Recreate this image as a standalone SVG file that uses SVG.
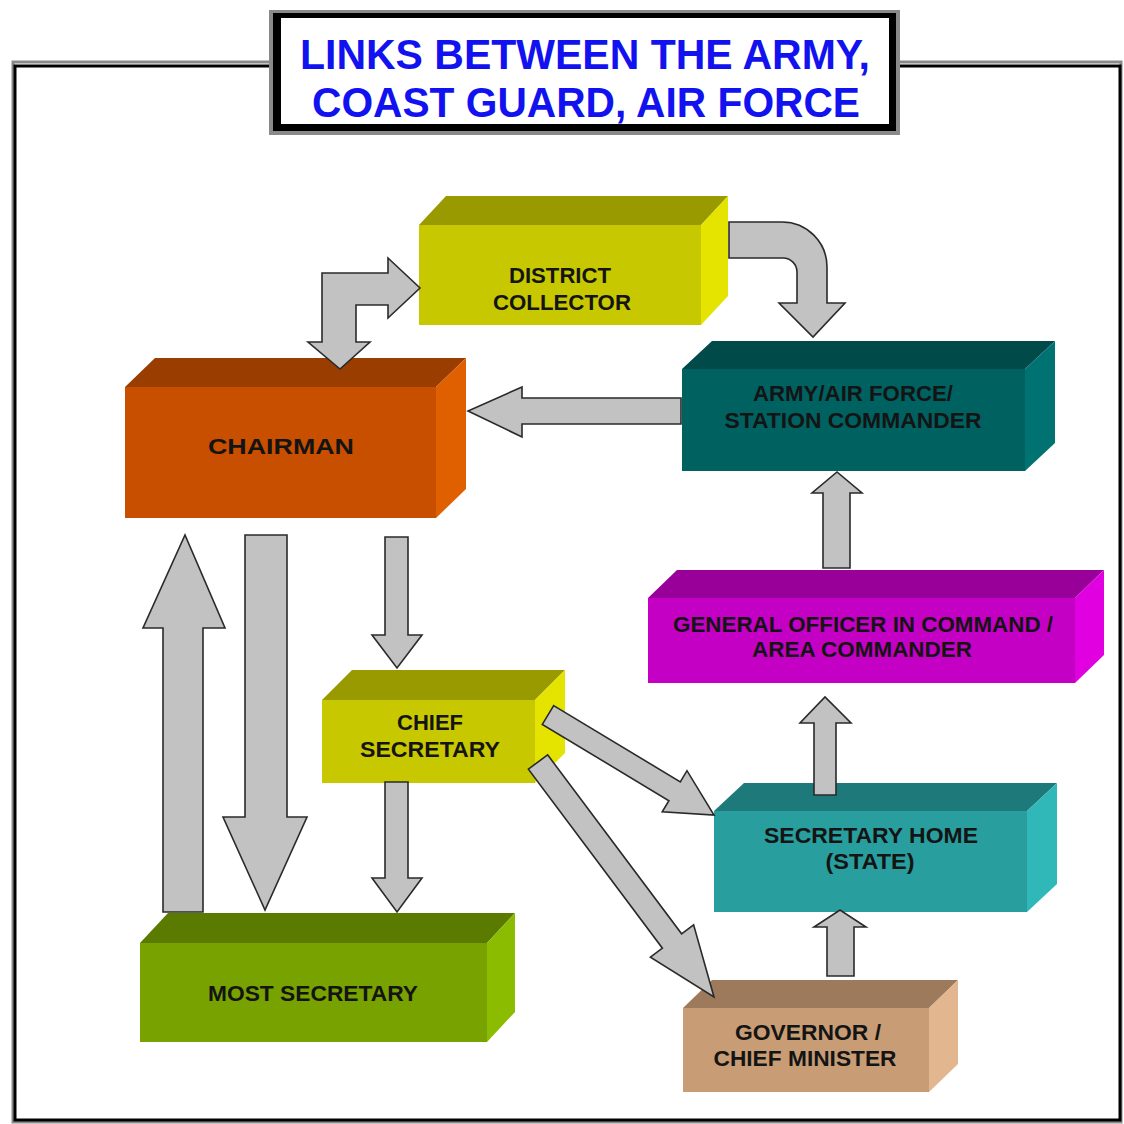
<svg xmlns="http://www.w3.org/2000/svg" width="1124" height="1124" viewBox="0 0 1124 1124">
<style>
.lbl{font-family:"Liberation Sans",Arial,sans-serif;font-weight:bold;font-size:22.5px;fill:#141414;text-anchor:middle}
.ttl{font-family:"Liberation Sans",Arial,sans-serif;font-weight:bold;font-size:43px;fill:#1212f0;text-anchor:middle}
.arr{fill:#c2c2c2;stroke:#2a2a2a;stroke-width:1.6;stroke-linejoin:miter}
</style>
<rect width="1124" height="1124" fill="#ffffff"/>
<g id="frame" fill="none">
<rect x="13" y="62" width="1108" height="1060" stroke="#8a8a8a" stroke-width="3"/>
<rect x="15" y="66" width="1105" height="1054" stroke="#000" stroke-width="3"/>
</g>
<g id="title">
<rect x="269" y="10" width="631" height="125" fill="#8a8a8a"/>
<rect x="273" y="13" width="623" height="118" fill="#000"/>
<rect x="281" y="18" width="608" height="106" fill="#fff"/>
<text class="ttl" x="585" y="69" textLength="570" lengthAdjust="spacingAndGlyphs">LINKS BETWEEN THE ARMY,</text>
<text class="ttl" x="586" y="117" textLength="548" lengthAdjust="spacingAndGlyphs">COAST GUARD, AIR FORCE</text>
</g>
<g id="district-collector">
<polygon points="419,225 701,225 728,196 446,196" fill="#999900"/>
<polygon points="701,225 728,196 728,296 701,325" fill="#e4e400"/>
<rect x="419" y="225" width="282" height="100" fill="#c8c800"/>
<text class="lbl" x="560" y="283" textLength="102" lengthAdjust="spacingAndGlyphs">DISTRICT</text>
<text class="lbl" x="562" y="310" textLength="138" lengthAdjust="spacingAndGlyphs">COLLECTOR</text>
</g>
<g id="chairman">
<polygon points="125,387 436,387 466,358 155,358" fill="#9a3d00"/>
<polygon points="436,387 466,358 466,489 436,518" fill="#e06000"/>
<rect x="125" y="387" width="311" height="131" fill="#c84e00"/>
<text class="lbl" x="281" y="454" font-size="25" textLength="146" lengthAdjust="spacingAndGlyphs">CHAIRMAN</text>
</g>
<g id="army-station-commander">
<polygon points="682,369 1025,369 1055,341 712,341" fill="#004a4a"/>
<polygon points="1025,369 1055,341 1055,443 1025,471" fill="#007272"/>
<rect x="682" y="369" width="343" height="102" fill="#006161"/>
<text class="lbl" x="853" y="401" textLength="200" lengthAdjust="spacingAndGlyphs">ARMY/AIR FORCE/</text>
<text class="lbl" x="853" y="428" textLength="257" lengthAdjust="spacingAndGlyphs">STATION COMMANDER</text>
</g>
<g id="general-officer">
<polygon points="648,598 1075,598 1104,570 677,570" fill="#990099"/>
<polygon points="1075,598 1104,570 1104,655 1075,683" fill="#e000e0"/>
<rect x="648" y="598" width="427" height="85" fill="#c400c4"/>
<text class="lbl" x="863" y="632" textLength="380" lengthAdjust="spacingAndGlyphs">GENERAL OFFICER IN COMMAND /</text>
<text class="lbl" x="862" y="657" textLength="220" lengthAdjust="spacingAndGlyphs">AREA COMMANDER</text>
</g>
<g id="chief-secretary">
<polygon points="322,700 535,700 565,670 352,670" fill="#999900"/>
<polygon points="535,700 565,670 565,753 535,783" fill="#e4e400"/>
<rect x="322" y="700" width="213" height="83" fill="#c8c800"/>
<text class="lbl" x="430" y="730" textLength="66" lengthAdjust="spacingAndGlyphs">CHIEF</text>
<text class="lbl" x="430" y="757" textLength="140" lengthAdjust="spacingAndGlyphs">SECRETARY</text>
</g>
<g id="secretary-home">
<polygon points="714,811 1027,811 1057,783 744,783" fill="#1e7a7a"/>
<polygon points="1027,811 1057,783 1057,884 1027,912" fill="#30b8b8"/>
<rect x="714" y="811" width="313" height="101" fill="#289e9e"/>
<text class="lbl" x="871" y="843" textLength="214" lengthAdjust="spacingAndGlyphs">SECRETARY HOME</text>
<text class="lbl" x="870" y="869" textLength="89" lengthAdjust="spacingAndGlyphs">(STATE)</text>
</g>
<g id="governor">
<polygon points="683,1008 929,1008 958,980 712,980" fill="#9e7a5c"/>
<polygon points="929,1008 958,980 958,1064 929,1092" fill="#e2b68e"/>
<rect x="683" y="1008" width="246" height="84" fill="#c89c74"/>
<text class="lbl" x="808" y="1040" textLength="146" lengthAdjust="spacingAndGlyphs">GOVERNOR /</text>
<text class="lbl" x="805" y="1066" textLength="183" lengthAdjust="spacingAndGlyphs">CHIEF MINISTER</text>
</g>
<g id="most-secretary">
<polygon points="140,943 487,943 515,913 168,913" fill="#5a7a00"/>
<polygon points="487,943 515,913 515,1012 487,1042" fill="#8cbc00"/>
<rect x="140" y="943" width="347" height="99" fill="#78a200"/>
<text class="lbl" x="313" y="1001" textLength="210" lengthAdjust="spacingAndGlyphs">MOST SECRETARY</text>
</g>
<g id="connectors">
<path class="arr" d="M322,273 L388,273 L388,258 L420,288 L388,318 L388,305 L356,305 L356,342 L370,342 L340,369 L308,342 L322,342 Z"/>
<path class="arr" d="M729,222 L782,222 A45,45 0 0 1 827,267 L827,303 L845,303 L813,337 L779,303 L797,303 L797,272 A14,14 0 0 0 783,258 L729,258 Z"/>
<path class="arr" d="M681,398 L522,398 L522,387 L468,411 L522,437 L522,424 L681,424 Z"/>
<path class="arr" d="M163,912 L163,628 L143,628 L185,535 L225,628 L203,628 L203,912 Z"/>
<path class="arr" d="M245,535 L287,535 L287,817 L307,817 L265,910 L223,817 L245,817 Z"/>
<path class="arr" d="M385,537 L408,537 L408,635 L422,635 L397,668 L372,635 L385,635 Z"/>
<path class="arr" d="M385,782 L408,782 L408,878 L422,878 L397,912 L372,878 L385,878 Z"/>
<path class="arr" d="M553.7,705.6 L680.3,781.9 L687,770.7 L714,815 L662.2,811.9 L668.9,800.7 L542.3,724.4 Z"/>
<path class="arr" d="M547.6,754.8 L681.6,933.8 L693.6,924.8 L714,997 L650.4,957.2 L662.4,948.2 L528.4,769.2 Z"/>
<path class="arr" d="M827,976 L827,927 L814,927 L840,910 L866,927 L854,927 L854,976 Z"/>
<path class="arr" d="M814,795 L814,723 L800,723 L825,697 L851,723 L836,723 L836,795 Z"/>
<path class="arr" d="M823,568 L823,493 L812,493 L837,472 L862,493 L850,493 L850,568 Z"/>
</g>
</svg>
